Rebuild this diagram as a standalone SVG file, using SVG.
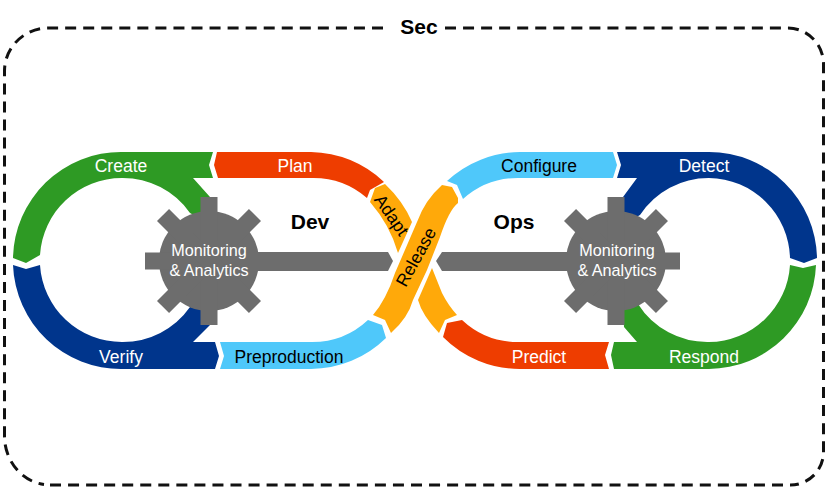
<svg xmlns="http://www.w3.org/2000/svg" width="835" height="504" viewBox="0 0 835 504">
<style>
.t{font-family:"Liberation Sans",Arial,sans-serif;font-size:17.5px;text-anchor:middle}
.m{font-size:16.2px}
.w{fill:#fff}.k{fill:#000}
.b{font-weight:bold;font-size:21px;fill:#000}
.gear{fill:#6d6d6d}
.border{fill:none;stroke:#111;stroke-width:3;stroke-dasharray:11 7.05}
</style>
<rect width="835" height="504" fill="#fff"/>
<g id="sec-border">
<path class="border" d="M383,28 H48 A44,43 0 0 0 4.5,71 V436 A45,49 0 0 0 44,484.5"/>
<path class="border" d="M445,28 H788 A36,36 0 0 1 823.5,64 V452 A33,33 0 0 1 790,485"/>
<path class="border" d="M50,485 H783"/>
<text class="t b" x="419" y="34">Sec</text>
</g>
<g id="create">
<path fill="#2e9a24" d="M13,258 A108,108 0 0 1 122,152 H213 L209,165 L213,178 H193 L210,197 L212,225 L190,213 A82,82 0 0 0 122,178 A82,82 0 0 0 40,255 L26,263 Z"/>
<text class="t w" x="121" y="171.5">Create</text>
</g>
<g id="verify">
<path fill="#00358c" d="M13,265 L26,269 L40,265 A82,82 0 0 0 122,342 A82,82 0 0 0 190,307 L212,295 L210,325 L193,342 H215 L219,356 L215,369 H122 A108,108 0 0 1 13,265 Z"/>
<text class="t w" x="121" y="362.5">Verify</text>
</g>
<g id="plan">
<path fill="#ee3d00" d="M217,152 H311 A108,108 0 0 1 384,182 L370,190 L367,198 A82,82 0 0 0 311,178 H218 L214,165 Z"/>
<text class="t w" x="295" y="171.5">Plan</text>
</g>
<g id="preproduction">
<path fill="#4fc8fa" d="M220,342 H311 A82,82 0 0 0 368,320 L382,325 L386,338 A108,108 0 0 1 311,369 H220 L224,356 Z"/>
<text class="t k" x="289" y="362.5">Preproduction</text>
</g>
<g id="adapt">
<path fill="#ffa90a" d="M370,202 L375,188 L385,184 Q403,201 412,222 L398,253 Q390,225 370,202 Z"/>
<text class="t k" transform="translate(391.5,215) rotate(55)" y="6">Adapt</text>
</g>
<g id="release">
<path fill="#ffa90a" d="M373,315 Q386,300 395,273 L417,222 Q425,200 442,185 L452,187 L458,198 V203 Q449,210 440,237 L427,270 L413,300 Q408,318 391,333 L385,320 Z"/>
<path fill="#ffa90a" d="M432,268 L442,293 Q448,305 457,315 L445,320 L439,333 Q422,315 418,300 Z"/>
<text class="t k" transform="translate(416,257) rotate(-61)" y="6">Release</text>
</g>
<g id="configure">
<path fill="#4fc8fa" d="M447,181 A108,108 0 0 1 520,152 H613 L617,165 L613,178 H520 A82,82 0 0 0 463,199 L457,185 Z"/>
<text class="t k" x="539" y="171.5">Configure</text>
</g>
<g id="detect">
<path fill="#00358c" d="M617,152 H709 A108,108 0 0 1 817,258 L804,263 L790,258 A82,82 0 0 0 709,178 A82,82 0 0 0 640,215 L622,225 L623,197 L637,178 H617 L621,165 Z"/>
<text class="t w" x="704" y="171.5">Detect</text>
</g>
<g id="respond">
<path fill="#2e9a24" d="M790,265 L803,268 L816,265 A108,108 0 0 1 709,369 H614 L611,355 L614,342 H637 L624,327 L622,295 L638,304 A82,82 0 0 0 709,342 A82,82 0 0 0 790,265 Z"/>
<text class="t w" x="704" y="362.5">Respond</text>
</g>
<g id="predict">
<path fill="#ee3d00" d="M609,342 L605,355 L609,369 H520 A108,108 0 0 1 443,337 L447,323 L462,320 A82,82 0 0 0 520,342 Z"/>
<text class="t w" x="539" y="362.5">Predict</text>
</g>
<text class="t b" x="310" y="229">Dev</text>
<text class="t b" x="514" y="229">Ops</text>
<g id="gear-left">
<g class="gear" transform="translate(209,261)">
<circle r="50"/>
<rect x="-8.5" y="-64" width="17" height="128"/>
<rect x="-64" y="-8.5" width="128" height="17"/>
<rect x="-8.5" y="-65" width="17" height="130" transform="rotate(45)"/>
<rect x="-8.5" y="-65" width="17" height="130" transform="rotate(-45)"/>
</g>
<path class="gear" d="M250,252 H388 L393,261 L388,271 H250 Z"/>
<text class="t m w" x="209" y="256">Monitoring</text>
<text class="t m w" x="209" y="276">&amp; Analytics</text>
</g>
<g id="gear-right">
<g class="gear" transform="translate(616,261)">
<circle r="50"/>
<rect x="-8.5" y="-64" width="17" height="128"/>
<rect x="-64" y="-8.5" width="128" height="17"/>
<rect x="-8.5" y="-65" width="17" height="130" transform="rotate(45)"/>
<rect x="-8.5" y="-65" width="17" height="130" transform="rotate(-45)"/>
</g>
<path class="gear" d="M580,252 H442 L436,261 L442,271 H580 Z"/>
<text class="t m w" x="617" y="256">Monitoring</text>
<text class="t m w" x="617" y="276">&amp; Analytics</text>
</g>
<g id="connectors"/>
</svg>
